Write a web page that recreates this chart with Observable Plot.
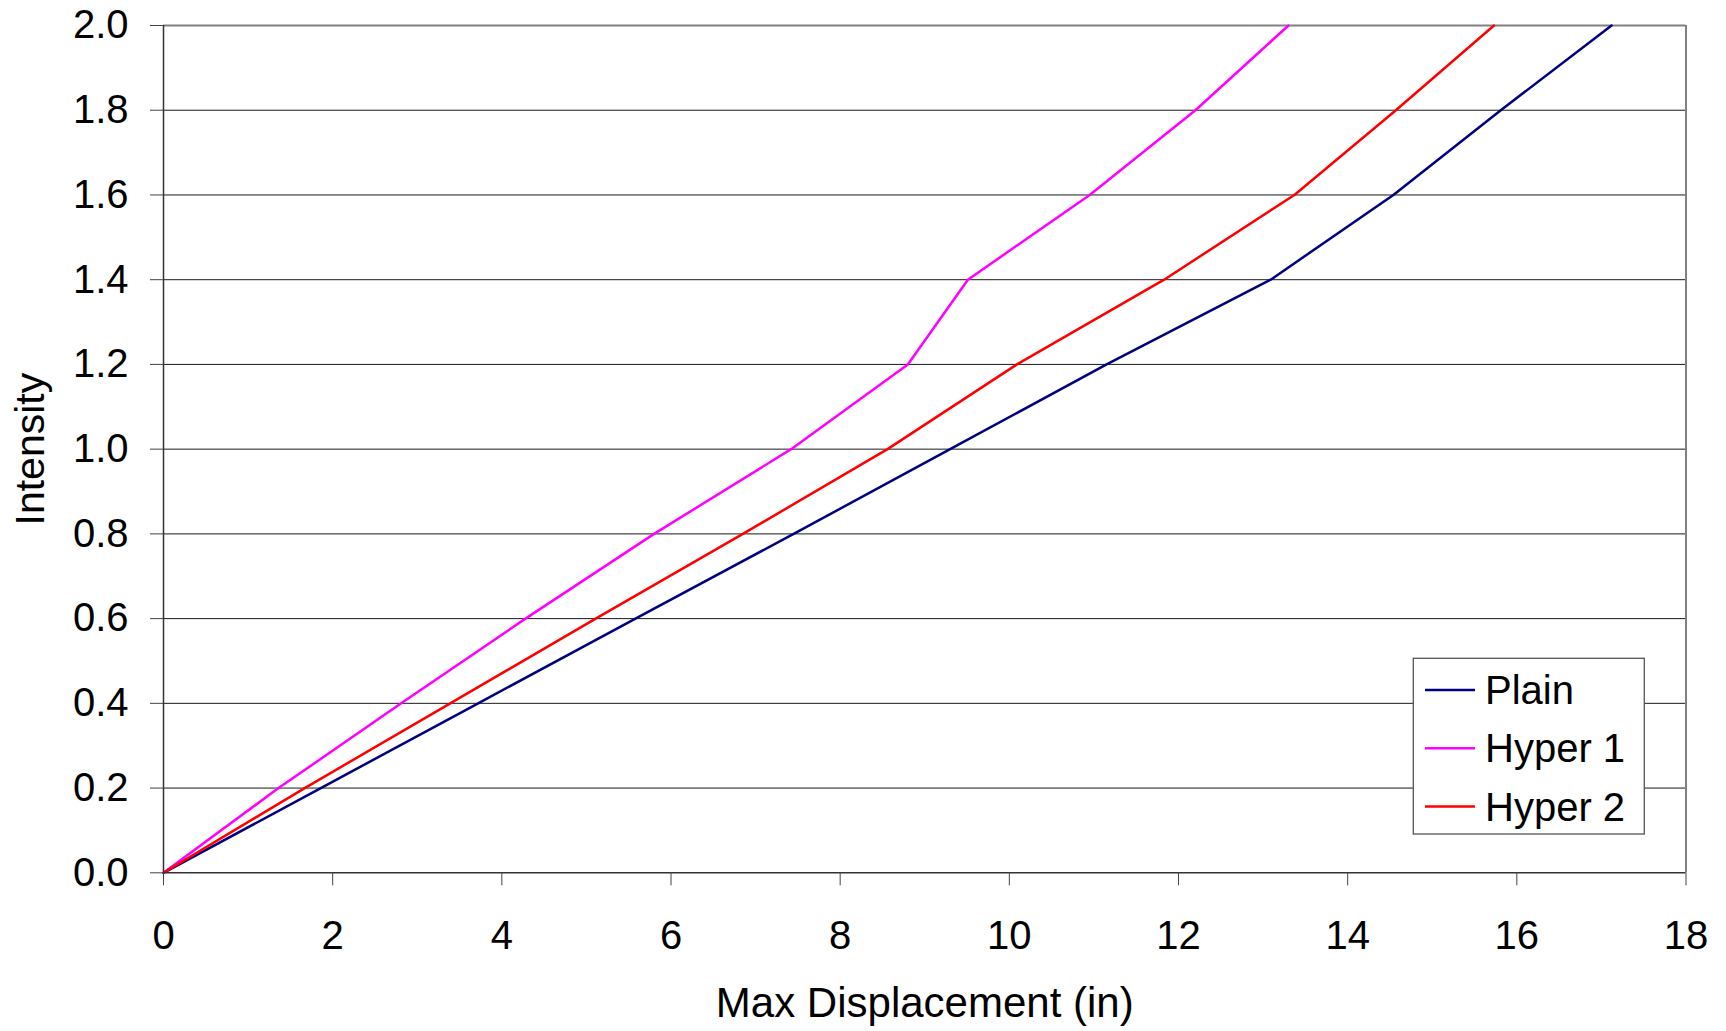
<!DOCTYPE html>
<html>
<head>
<meta charset="utf-8">
<script src="https://cdn.jsdelivr.net/npm/d3@7"></script>
<script src="https://cdn.jsdelivr.net/npm/@observablehq/plot@0.6"></script>
<style>
  html, body { margin: 0; padding: 0; background: #fff; overflow: hidden; }
  #chart { position: absolute; left: 0; top: 0; }
</style>
</head>
<body>
<div id="chart"></div>
<script>
// ---- Data ----
const intensity = [0, 0.2, 0.4, 0.6, 0.8, 1.0, 1.2, 1.4, 1.6, 1.8, 2.0];
const plain  = [0, 1.86, 3.72, 5.58, 7.45, 9.30, 11.15, 13.09, 14.54, 15.81, 17.12];
const hyper1 = [0, 1.36, 2.81, 4.28, 5.80, 7.42, 8.80, 9.51, 10.95, 12.20, 13.30];
const hyper2 = [0, 1.67, 3.39, 5.11, 6.85, 8.56, 10.09, 11.83, 13.37, 14.57, 15.73];
const seriesNames = ["Plain", "Hyper 1", "Hyper 2"];
const seriesColors = ["#000080", "#FF00FF", "#FF0000"];
const xTicks = [0, 2, 4, 6, 8, 10, 12, 14, 16, 18];
const yTicks = [0, 0.2, 0.4, 0.6, 0.8, 1.0, 1.2, 1.4, 1.6, 1.8, 2.0];
const gridTicks = [0.2, 0.4, 0.6, 0.8, 1.0, 1.2, 1.4, 1.6, 1.8];
const xLabel = "Max Displacement (in)";
const yLabel = "Intensity";

const seriesValues = [plain, hyper1, hyper2];
const rows = [];
seriesNames.forEach((name, s) => {
  intensity.forEach((y, i) => rows.push({series: name, x: seriesValues[s][i], y}));
});

const W = 1726, H = 1031;
const mL = 163, mR = 40.5, mT = 25, mB = 158.7;
const font = "'Liberation Sans', Arial, Helvetica, sans-serif";

const chart = Plot.plot({
  width: W,
  height: H,
  marginLeft: mL,
  marginRight: mR,
  marginTop: mT,
  marginBottom: mB,
  style: {fontFamily: font, fontSize: "40px", background: "#fff", color: "#000"},
  x: {domain: [0, 18], ticks: xTicks},
  y: {domain: [0, 2], ticks: yTicks},
  color: {domain: seriesNames, range: seriesColors},
  marks: [
    Plot.ruleY(gridTicks, {stroke: "#1a1a1a", strokeWidth: 1}),
    Plot.ruleY([2], {stroke: "#808080", strokeWidth: 2}),
    Plot.ruleX([18], {stroke: "#808080", strokeWidth: 2}),
    Plot.line(rows, {x: "x", y: "y", z: "series", stroke: "series", strokeWidth: 2.5, strokeLinejoin: "miter"}),
    Plot.ruleX([0], {stroke: "#333", strokeWidth: 1.5}),
    Plot.ruleY([0], {stroke: "#333", strokeWidth: 1.5}),
    Plot.axisY(yTicks, {tickSize: 13, tickPadding: 22, tickFormat: d => d.toFixed(1), fontSize: 40, label: null, stroke: "#444"}),
    Plot.axisX(xTicks, {tickSize: 13, tickPadding: 35, tickFormat: d => String(d), fontSize: 40, label: null, stroke: "#444"}),
    Plot.text([xLabel], {frameAnchor: "bottom", textAnchor: "middle", dy: 144.4, lineAnchor: "bottom", fontSize: 42, fill: "#000"}),
    Plot.text([yLabel], {frameAnchor: "left", textAnchor: "middle", dx: -132.5, rotate: -90, fontSize: 41, fill: "#000"})
  ]
});

document.getElementById("chart").appendChild(chart);

// ---- Legend box (inside plot area, lower right) ----
const svg = d3.select(chart);
const plotRight = W - mR, plotBottom = H - mB;
const boxW = 231, boxH = 175.7;
const boxX = plotRight - 41.2 - boxW, boxY = plotBottom - 38.3 - boxH;
const g = svg.append("g")
  .attr("font-family", font)
  .attr("font-size", 40)
  .attr("text-anchor", "start");
g.append("rect")
  .attr("x", boxX).attr("y", boxY).attr("width", boxW).attr("height", boxH)
  .attr("fill", "#fff").attr("stroke", "#555").attr("stroke-width", 1.3);
const rowStep = 58.3;
seriesNames.forEach((name, i) => {
  const cy = boxY + 31.7 + i * rowStep;
  g.append("line")
    .attr("x1", boxX + 11.7).attr("x2", boxX + 61.7)
    .attr("y1", cy).attr("y2", cy)
    .attr("stroke", seriesColors[i]).attr("stroke-width", 2.5);
  g.append("text")
    .attr("x", boxX + 71.7).attr("y", cy + 14)
    .attr("text-anchor", "start")
    .attr("fill", "#000")
    .text(name);
});
</script>
</body>
</html>
